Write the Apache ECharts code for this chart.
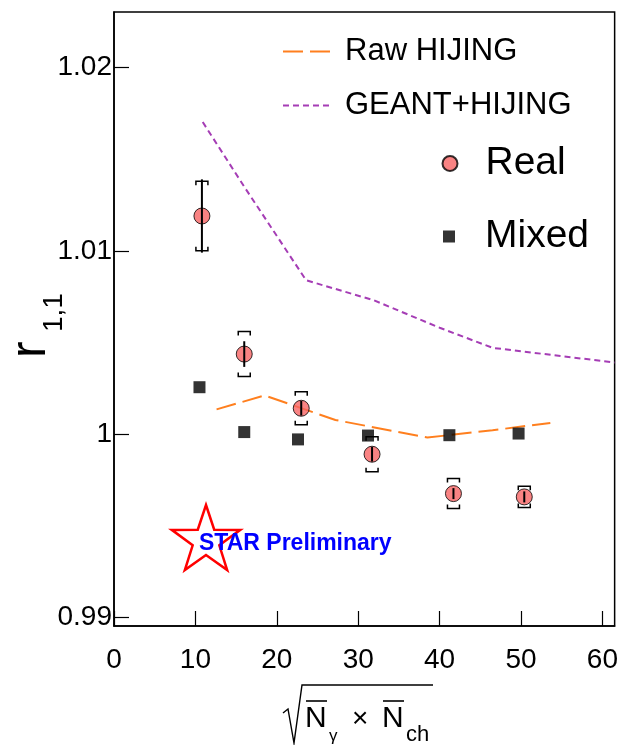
<!DOCTYPE html>
<html>
<head>
<meta charset="utf-8">
<script src="https://cdn.jsdelivr.net/npm/echarts@6/dist/echarts.min.js"></script>
<style>
  html, body { margin: 0; padding: 0; background: #fff; }
  #chart { width: 621px; height: 745px; }
</style>
</head>
<body>
<div id="chart"></div>
<script>
// r_{1,1} versus sqrt(Nγ × Nch)
const realX = [10.8, 16.0, 23.0, 31.7, 41.7, 50.4];
const realY = [1.0119, 1.00436, 1.0014, 0.99889, 0.99674, 0.99656];
const realStat = [0.0020, 0.0007, 0.0004, 0.0004, 0.0003, 0.0003];
const realSys = [0.0019, 0.00123, 0.0009, 0.00095, 0.00082, 0.00058];

const mixedX = [10.5, 16.0, 22.6, 31.2, 41.2, 49.7];
const mixedY = [1.00255, 1.0001, 0.9997, 0.99991, 0.99993, 1.00002];

const rawHijingX = [12.6, 18.5, 27.2, 38.5, 46.5, 53.6];
const rawHijingY = [1.00134, 1.0021, 1.00076, 0.9998, 1.0002, 1.0006];

const geantHijingX = [10.9, 16.0, 23.6, 31.9, 40.0, 46.5, 61.5];
const geantHijingY = [1.01703, 1.0135, 1.00839, 1.0073, 1.0058, 1.0047, 1.0039];

const xTicks = [0, 10, 20, 30, 40, 50, 60];
const yTicks = [0.99, 1.0, 1.01, 1.02];

const FONT = 'Liberation Sans';
const zip = (xs, ys) => xs.map((x, i) => [x, ys[i]]);

const chart = echarts.init(document.getElementById('chart'), null, { renderer: 'canvas' });

function errorBars(params, api) {
  const x = api.value(0), y = api.value(1), s = api.value(2), sy = api.value(3);
  const a = api.coord([x, y + s]);
  const b = api.coord([x, y - s]);
  const t = api.coord([x, y + sy]);
  const u = api.coord([x, y - sy]);
  const w = 6, h = 4;
  const st = { stroke: '#000', lineWidth: 1.5, fill: null };
  return {
    type: 'group',
    children: [
      { type: 'line', shape: { x1: a[0], y1: a[1], x2: b[0], y2: b[1] }, style: { stroke: '#000', lineWidth: 2 } },
      { type: 'polyline', shape: { points: [[t[0] - w, t[1] + h], [t[0] - w, t[1]], [t[0] + w, t[1]], [t[0] + w, t[1] + h]] }, style: st },
      { type: 'polyline', shape: { points: [[u[0] - w, u[1] - h], [u[0] - w, u[1]], [u[0] + w, u[1]], [u[0] + w, u[1] - h]] }, style: st }
    ]
  };
}

// five-pointed star of the preliminary badge
function starPoints(cx, cy, R, r) {
  const pts = [];
  for (let i = 0; i < 10; i++) {
    const ang = -Math.PI / 2 + i * Math.PI / 5;
    const rad = i % 2 === 0 ? R : r;
    pts.push([cx + rad * Math.cos(ang), cy + rad * Math.sin(ang)]);
  }
  return pts;
}

const lineLegend = (name, top, color, dash) => ({
  data: [name], left: 282, top: top, padding: 0, orient: 'vertical', itemWidth: 48, itemHeight: 14,
  selectedMode: false,
  itemStyle: { opacity: 0 },
  lineStyle: { color: color, width: 2, type: dash },
  textStyle: { fontFamily: FONT, fontSize: 31, color: '#000', padding: [0, 0, 0, 9] }
});

const option = {
  backgroundColor: '#fff',
  animation: false,
  grid: { left: 114, right: 5, top: 12, bottom: 119, show: true, borderColor: '#000', borderWidth: 1.5, containLabel: false },
  xAxis: {
    type: 'value', min: 0, max: 61.5,
    axisLine: { show: true, lineStyle: { color: '#000', width: 1.5 } },
    axisTick: { show: true, inside: true, length: 15, customValues: xTicks, lineStyle: { color: '#000', width: 1.2 } },
    axisLabel: { customValues: xTicks, fontFamily: FONT, fontSize: 28, color: '#000', margin: 20 },
    splitLine: { show: false }
  },
  yAxis: {
    type: 'value', min: 0.98951, max: 1.02304,
    axisLine: { show: true, lineStyle: { color: '#000', width: 1.5 } },
    axisTick: { show: true, inside: true, length: 15, customValues: yTicks, lineStyle: { color: '#000', width: 1.2 } },
    axisLabel: { customValues: yTicks, fontFamily: FONT, fontSize: 28, color: '#000', margin: 2 },
    splitLine: { show: false }
  },
  legend: [
    lineLegend('Raw HIJING', 36, '#ff7f1e', [20, 7]),
    lineLegend('GEANT+HIJING', 90, '#a53db5', [6, 4]),
    { data: ['Real'], left: 441.5, top: 144, padding: 0, itemWidth: 15, itemHeight: 15,
      textStyle: { fontFamily: FONT, fontSize: 39, color: '#000', padding: [5, 0, 0, 23] }, selectedMode: false },
    { data: ['Mixed'], left: 443, top: 217, padding: 0, itemWidth: 12, itemHeight: 12,
      textStyle: { fontFamily: FONT, fontSize: 39, color: '#000', padding: [0, 0, 0, 25] }, selectedMode: false }
  ],
  series: [
    { name: 'Raw HIJING', type: 'line', data: zip(rawHijingX, rawHijingY), symbol: 'none', z: 2,
      itemStyle: { color: '#ff7f1e' },
      lineStyle: { color: '#ff7f1e', width: 2, type: [20, 7] } },
    { name: 'GEANT+HIJING', type: 'line', data: zip(geantHijingX, geantHijingY), symbol: 'none', z: 2,
      itemStyle: { color: '#a53db5' },
      lineStyle: { color: '#a53db5', width: 2, type: [6, 4] } },
    { name: 'Mixed', type: 'scatter', data: zip(mixedX, mixedY), symbol: 'rect', symbolSize: 12, z: 3,
      itemStyle: { color: '#000' } },
    { name: 'Real', type: 'scatter', data: zip(realX, realY), symbol: 'circle', symbolSize: 16, z: 4,
      itemStyle: { color: '#f86464', borderColor: '#000', borderWidth: 1 } },
    { name: 'Real errors', type: 'custom', z: 5, silent: true,
      data: realX.map((x, i) => [x, realY[i], realStat[i], realSys[i]]),
      encode: { x: 0, y: 1 }, renderItem: errorBars }
  ],
  graphic: [
    // y-axis title r_{1,1}
    { type: 'group', x: 56, y: 358, rotation: Math.PI / 2, children: [
      { type: 'text', x: 0, y: 0, style: { text: 'r', fontFamily: FONT, fontSize: 50, fill: '#000', textVerticalAlign: 'bottom' } },
      { type: 'text', x: 26, y: 12, style: { text: '1,1', fontFamily: FONT, fontSize: 28, fill: '#000', textVerticalAlign: 'bottom' } }
    ] },
    // x-axis title sqrt(Nγ × Nch)
    { type: 'polyline', shape: { points: [[283, 713], [288, 709], [294, 743], [302, 685], [433, 685]] },
      style: { stroke: '#000', lineWidth: 1.4, fill: null } },
    { type: 'text', x: 305, y: 734, style: { text: 'N', fontFamily: FONT, fontSize: 30, fill: '#000', textVerticalAlign: 'bottom' } },
    { type: 'line', shape: { x1: 306, y1: 701, x2: 327, y2: 701 }, style: { stroke: '#000', lineWidth: 1.6 } },
    { type: 'text', x: 329, y: 745, style: { text: 'γ', fontFamily: FONT, fontSize: 17, fill: '#000', textVerticalAlign: 'bottom' } },
    { type: 'text', x: 352, y: 733, style: { text: '×', fontFamily: FONT, fontSize: 28, fill: '#000', textVerticalAlign: 'bottom' } },
    { type: 'text', x: 382, y: 734, style: { text: 'N', fontFamily: FONT, fontSize: 30, fill: '#000', textVerticalAlign: 'bottom' } },
    { type: 'line', shape: { x1: 383, y1: 701, x2: 404, y2: 701 }, style: { stroke: '#000', lineWidth: 1.6 } },
    { type: 'text', x: 406, y: 746, style: { text: 'ch', fontFamily: FONT, fontSize: 22, fill: '#000', textVerticalAlign: 'bottom' } },
    // preliminary badge
    { type: 'polygon', shape: { points: starPoints(206, 541, 36, 14) },
      style: { fill: '#fff', stroke: '#f00', lineWidth: 2.5 }, z: 10 },
    { type: 'text', x: 199, y: 544, z: 11, style: { text: 'STAR Preliminary', fontFamily: FONT, fontWeight: 'bold', fontSize: 23, fill: '#0000ff', textVerticalAlign: 'middle' } }
  ]
};

chart.setOption(option);
</script>
</body>
</html>
